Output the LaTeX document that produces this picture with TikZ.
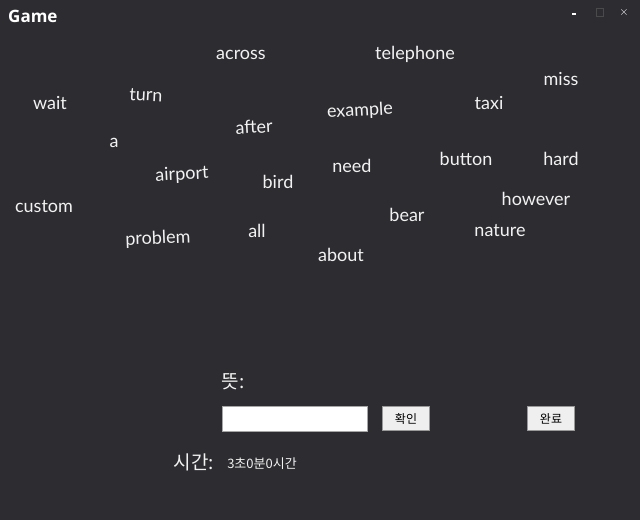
\documentclass[tikz,border=0pt]{standalone}
\usepackage{fontspec}
\setmainfont{Lato}
\newfontfamily\krfont{Noto Sans CJK KR}
\newfontfamily\titlefont{Open Sans}
\definecolor{bgc}{HTML}{2D2C31}
\definecolor{wordc}{HTML}{F2F2F2}
\definecolor{btnc}{HTML}{EFEFEF}
\begin{document}
\begin{tikzpicture}[x=1pt,y=-1pt,
  word/.style={text=wordc,font=\fontsize{18}{20}\selectfont,inner sep=0pt,anchor=center},
  krlabel/.style={text=wordc,font=\krfont\fontsize{19}{20}\selectfont,inner sep=0pt},
  btn/.style={draw=gray!80,fill=btnc,line width=1pt,minimum width=47pt,minimum height=24pt,inner sep=0pt,font=\krfont\fontsize{12}{13}\selectfont,text=black}]
\fill[bgc] (0,0) rectangle (640,520);
\useasboundingbox (0,0) rectangle (640,520);
% title bar
\node[anchor=west,text=white,font=\titlefont\bfseries\fontsize{17}{19}\selectfont,inner sep=0pt] (title) at (8,16) {Game};
\node[fill=white,minimum width=4pt,minimum height=1.2pt,inner sep=0pt] (minb) at (574,14) {};
\node[draw=gray!35!bgc,minimum width=7pt,minimum height=8pt,inner sep=0pt] (maxb) at (600,12) {};
\node[text=white,font=\fontsize{12}{12}\selectfont,inner sep=0pt] (closeb) at (624,12) {$\times$};
% words
\begin{scope}[yshift=-2pt]
\node[word] (across) at (241,53) {across};
\node[word] (telephone) at (415,52) {telephone};
\node[word] (miss) at (561,77) {miss};
\node[word] (wait) at (50,101) {wait};
\node[word,rotate=-3] (turn) at (146,93) {turn};
\node[word] (taxi) at (489,101) {taxi};
\node[word,rotate=3] (example) at (360,109) {example};
\node[word,rotate=3] (after) at (254,125) {after};
\node[word] (a) at (114,141) {a};
\node[word,rotate=3] (airport) at (182,173) {airport};
\node[word] (bird) at (278,180) {bird};
\node[word] (need) at (352,164) {need};
\node[word] (button) at (466,157) {button};
\node[word] (hard) at (561,157) {hard};
\node[word] (custom) at (44,205) {custom};
\node[word] (however) at (536,197) {however};
\node[word] (bear) at (407,213) {bear};
\node[word] (all) at (257,229) {all};
\node[word] (nature) at (500,229) {nature};
\node[word,rotate=2] (problem) at (158,237) {problem};
\node[word] (about) at (341,253) {about};
\end{scope}
% meaning input
\node[krlabel,anchor=center] (meaning) at (233,382) {뜻:};
\node[draw=gray!70,fill=white,line width=1pt,minimum width=145pt,minimum height=25pt,inner sep=0pt,anchor=north west] (input) at (222,406) {};
\node[btn,anchor=north west] (ok) at (382,406) {확인};
\node[btn,anchor=north west] (done) at (527,406) {완료};
% time
\node[krlabel,anchor=center] (timelabel) at (194,462) {시간:};
\node[text=wordc,font=\krfont\fontsize{13}{14}\selectfont,inner sep=0pt] (timeval) at (262,464) {3초0분0시간};
\end{tikzpicture}
\end{document}
